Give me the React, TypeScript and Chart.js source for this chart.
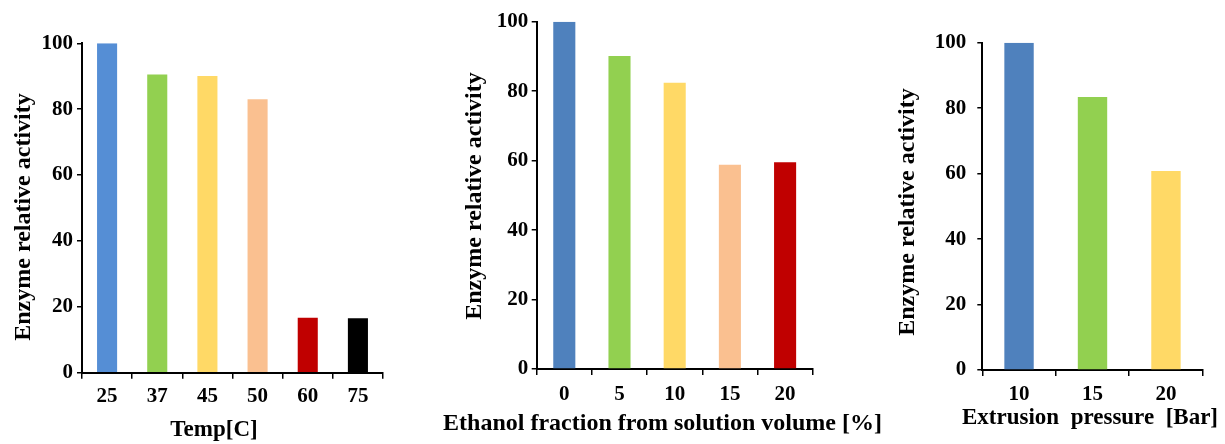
import React, { useEffect, useRef } from "react";
import { Chart, registerables } from "chart.js";

Chart.register(...registerables);

// ---- Data ----
const tempLabels = ["25", "37", "45", "50", "60", "75"];
const tempValues = [100, 90.5, 90.1, 83.0, 16.7, 16.5];
const tempColors = ["#558ED5", "#92D050", "#FFD966", "#FAC090", "#C00000", "#000000"];

const ethanolLabels = ["0", "5", "10", "15", "20"];
const ethanolValues = [100, 90.1, 82.4, 58.8, 59.5];
const ethanolColors = ["#4F81BD", "#92D050", "#FFD966", "#FAC090", "#C00000"];

const pressureLabels = ["10", "15", "20"];
const pressureValues = [100, 83.4, 60.8];
const pressureColors = ["#4F81BD", "#92D050", "#FFD966"];

const yAxisTitle = "Enzyme relative activity";
const tempTitle = "Temp[C]";
const ethanolTitle = "Ethanol fraction from solution volume [%]";
const pressureTitle = "Extrusion  pressure  [Bar]";

const FONT = '"Liberation Serif", "Times New Roman", serif';

const titlesPlugin = {
  id: "panelTitles",
  afterDraw(chart: any, _args: any, opts: any) {
    const ctx = chart.ctx;
    ctx.save();
    ctx.fillStyle = "#000";
    ctx.textAlign = "center";
    ctx.textBaseline = "middle";
    ctx.font = `bold ${opts.xSize}px ${FONT}`;
    ctx.fillText(opts.xText, opts.xPos[0], opts.xPos[1]);
    ctx.font = `bold ${opts.ySize}px ${FONT}`;
    ctx.translate(opts.yPos[0], opts.yPos[1]);
    ctx.rotate(-Math.PI / 2);
    ctx.fillText(opts.yText, 0, 0);
    ctx.restore();
  },
};

type PanelProps = {
  labels: string[];
  values: number[];
  colors: string[];
  xTitle: string;
  xTitleSize: number;
  left: number;
  width: number;
  yAxisWidth: number;
  xAxisHeight: number;
  padTop: number;
  padRight: number;
  yTickPad: number;
  xTickPad: number;
  xTitlePos: [number, number];
  yTitlePos: [number, number];
};

function Panel(p: PanelProps) {
  const ref = useRef<HTMLCanvasElement | null>(null);
  useEffect(() => {
    if (!ref.current) return;
    const chart = new Chart(ref.current, {
      type: "bar",
      data: {
        labels: p.labels,
        datasets: [
          {
            data: p.values,
            backgroundColor: p.colors,
            borderWidth: 0,
            categoryPercentage: 1,
            barPercentage: 0.4,
          },
        ],
      },
      plugins: [titlesPlugin as any],
      options: {
        animation: false,
        responsive: true,
        maintainAspectRatio: false,
        layout: { padding: { top: p.padTop, right: p.padRight, left: 0, bottom: 0 } },
        plugins: {
          legend: { display: false },
          tooltip: { enabled: false },
          panelTitles: {
            xText: p.xTitle,
            yText: yAxisTitle,
            xPos: p.xTitlePos,
            yPos: p.yTitlePos,
            xSize: p.xTitleSize,
            ySize: 24,
          },
        } as any,
        scales: {
          x: {
            offset: true,
            grid: {
              display: true,
              offset: true,
              drawOnChartArea: false,
              drawTicks: true,
              tickLength: 6,
              color: "#000",
              lineWidth: 1.5,
            },
            border: { display: true, color: "#000", width: 2 },
            ticks: {
              color: "#000",
              font: { family: FONT, size: 21, weight: "bold" },
              padding: p.xTickPad,
              maxRotation: 0,
            },
            afterFit(scale: any) {
              scale.height = p.xAxisHeight;
            },
          },
          y: {
            min: 0,
            max: 100,
            grid: {
              display: true,
              drawOnChartArea: false,
              drawTicks: true,
              tickLength: 5,
              color: "#000",
              lineWidth: 1.5,
            },
            border: { display: true, color: "#000", width: 2 },
            ticks: {
              stepSize: 20,
              color: "#000",
              font: { family: FONT, size: 21, weight: "bold" },
              padding: p.yTickPad,
            },
            afterFit(scale: any) {
              scale.width = p.yAxisWidth;
            },
          },
        },
      },
    });
    return () => chart.destroy();
  }, []);
  return (
    <div
      style={{
        position: "absolute",
        left: p.left,
        top: 0,
        width: p.width,
        height: 444,
      }}
    >
      <canvas ref={ref} />
    </div>
  );
}

export default function App() {
  return (
    <div
      style={{
        position: "fixed",
        left: 0,
        top: 0,
        width: 1225,
        height: 444,
        background: "#fff",
        overflow: "hidden",
      }}
    >
      <Panel
        labels={tempLabels}
        values={tempValues}
        colors={tempColors}
        xTitle={tempTitle}
        xTitleSize={23}
        left={0}
        width={400}
        yAxisWidth={82}
        xAxisHeight={71.3}
        padTop={43.3}
        padRight={17}
        yTickPad={4}
        xTickPad={5}
        xTitlePos={[214, 430]}
        yTitlePos={[24, 217]}
      />
      <Panel
        labels={ethanolLabels}
        values={ethanolValues}
        colors={ethanolColors}
        xTitle={ethanolTitle}
        xTitleSize={24}
        left={420}
        width={470}
        yAxisWidth={116.7}
        xAxisHeight={75}
        padTop={21.7}
        padRight={77.3}
        yTickPad={3.5}
        xTickPad={7}
        xTitlePos={[242.5, 424]}
        yTitlePos={[55, 196]}
      />
      <Panel
        labels={pressureLabels}
        values={pressureValues}
        colors={pressureColors}
        xTitle={pressureTitle}
        xTitleSize={23}
        left={890}
        width={335}
        yAxisWidth={92.3}
        xAxisHeight={74}
        padTop={42.7}
        padRight={22.3}
        yTickPad={11}
        xTickPad={6}
        xTitlePos={[200, 418]}
        yTitlePos={[18, 212]}
      />
    </div>
  );
}
